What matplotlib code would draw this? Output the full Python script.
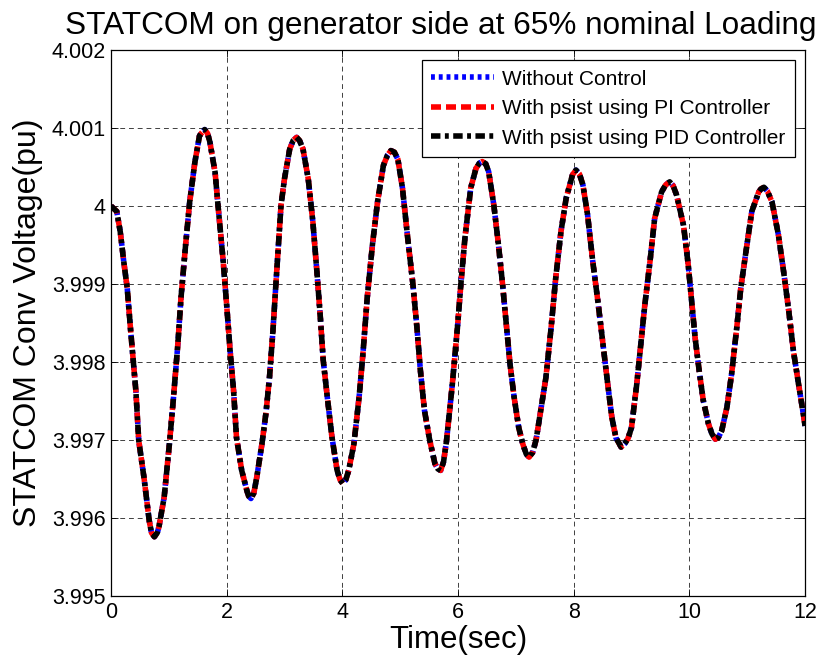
import numpy as np
import matplotlib.pyplot as plt

plt.rcParams['font.family'] = ['Liberation Sans', 'DejaVu Sans']

# time (s) and converter voltage (pu), one row per swing
t = [0.00, 0.10, 0.16, 0.22, 0.28, 0.34, 0.385, 0.43, 0.48, 0.57, 0.66, 0.70, 0.75, 0.80, 0.83,
     0.92, 1.01, 1.08, 1.155, 1.21, 1.29, 1.36, 1.45, 1.53, 1.57, 1.62, 1.67, 1.71,
     1.80, 1.85, 1.94, 2.00, 2.06, 2.12, 2.17, 2.26, 2.35, 2.38, 2.42, 2.47, 2.52,
     2.61, 2.68, 2.74, 2.80, 2.86, 2.94, 3.00, 3.09, 3.15, 3.21, 3.26, 3.32,
     3.41, 3.49, 3.56, 3.62, 3.67, 3.74, 3.82, 3.91, 3.96, 4.01, 4.06, 4.11,
     4.20, 4.29, 4.36, 4.43, 4.52, 4.61, 4.71, 4.78, 4.84, 4.90, 4.96,
     5.04, 5.13, 5.22, 5.29, 5.35, 5.42, 5.51, 5.60, 5.65, 5.70, 5.75, 5.80,
     5.90, 5.99, 6.05, 6.12, 6.22, 6.31, 6.37, 6.42, 6.48, 6.53,
     6.62, 6.70, 6.77, 6.83, 6.90, 6.97, 7.05, 7.12, 7.18, 7.23, 7.29, 7.35,
     7.43, 7.52, 7.61, 7.69, 7.78, 7.87, 7.98, 8.04, 8.10, 8.16,
     8.24, 8.33, 8.42, 8.50, 8.59, 8.66, 8.73, 8.82, 8.88, 8.94, 9.00,
     9.09, 9.16, 9.23, 9.32, 9.40, 9.52, 9.59, 9.66, 9.72, 9.78,
     9.90, 9.98, 10.04, 10.10, 10.17, 10.24, 10.33, 10.39, 10.45, 10.50, 10.56,
     10.65, 10.73, 10.82, 10.89, 10.98, 11.08, 11.20, 11.24, 11.29, 11.35, 11.43,
     11.54, 11.63, 11.72, 11.80, 11.89, 11.98, 12.00]

v_pid = [4.00000, 3.99993, 3.99967, 3.99929, 3.99895, 3.99840, 3.99801, 3.99763, 3.99699, 3.99652, 3.99597, 3.99581, 3.99576, 3.99581, 3.99589,
         3.99627, 3.99695, 3.99754, 3.99822, 3.99882, 3.99950, 4.00005, 4.00056, 4.00090, 4.00094, 4.00098, 4.00093, 4.00082,
         4.00043, 4.00001, 3.99929, 3.99873, 3.99814, 3.99763, 3.99703, 3.99661, 3.99635, 3.99628, 3.99625, 3.99632, 3.99652,
         3.99695, 3.99735, 3.99780, 3.99840, 3.99910, 4.00001, 4.00035, 4.00073, 4.00084, 4.00088, 4.00084, 4.00073,
         4.00035, 3.99980, 3.99916, 3.99857, 3.99802, 3.99755, 3.99704, 3.99661, 3.99649, 3.99644, 3.99649, 3.99661,
         3.99695, 3.99755, 3.99814, 3.99882, 3.99950, 4.00006, 4.00052, 4.00065, 4.00071, 4.00069, 4.00060,
         4.00023, 3.99959, 3.99900, 3.99844, 3.99789, 3.99738, 3.99700, 3.99670, 3.99663, 3.99661, 3.99672, 3.99698,
         3.99770, 3.99844, 3.99900, 3.99959, 4.00023, 4.00048, 4.00055, 4.00057, 4.00054, 4.00044,
         4.00001, 3.99950, 3.99900, 3.99853, 3.99797, 3.99755, 3.99716, 3.99695, 3.99682, 3.99678, 3.99684, 3.99700,
         3.99738, 3.99780, 3.99844, 3.99908, 3.99967, 4.00010, 4.00040, 4.00046, 4.00041, 4.00027,
         3.99989, 3.99929, 3.99877, 3.99827, 3.99771, 3.99729, 3.99703, 3.99691, 3.99695, 3.99702, 3.99716,
         3.99771, 3.99822, 3.99873, 3.99929, 3.99984, 4.00018, 4.00027, 4.00031, 4.00026, 4.00014,
         3.99975, 3.99925, 3.99878, 3.99831, 3.99789, 3.99751, 3.99721, 3.99708, 3.99701, 3.99703, 3.99712,
         3.99742, 3.99784, 3.99844, 3.99895, 3.99942, 3.99993, 4.00018, 4.00022, 4.00024, 4.00019, 4.00005,
         3.99963, 3.99916, 3.99865, 3.99814, 3.99771, 3.99729, 3.99718]

# the three responses overlap almost exactly
v_none = v_pid
v_pi = v_pid

labels = ['Without Control', 'With psist using PI Controller',
          'With psist using PID Controller']
xticks = [0, 2, 4, 6, 8, 10, 12]
yticks = [3.995, 3.996, 3.997, 3.998, 3.999, 4.000, 4.001, 4.002]

fig = plt.figure(figsize=(8.23, 6.65), dpi=100)
ax = fig.add_axes([111/823, 69/665, 694/823, 546/665])

lw = 4.0
ax.plot(t, v_none, color='#0000ff', lw=lw, dashes=(0.7, 0.7), label=labels[0],
        dash_joinstyle='round')
ax.plot(t, v_pi, color='#ff0000', lw=lw, dashes=(1.8, 0.9), label=labels[1],
        dash_joinstyle='round')
ax.plot(t, v_pid, color='black', lw=lw, dashes=(1.7, 0.8, 0.7, 0.8), label=labels[2],
        dash_joinstyle='round')

ax.set_xlim(0, 12)
ax.set_ylim(3.995, 4.002)
ax.set_xticks(xticks)
ax.set_yticks(yticks)
ax.set_yticklabels(['%g' % y for y in yticks])
ax.tick_params(direction='in', length=5, width=0.6, top=True, right=True,
               labelsize=15.5, pad=4)
ax.grid(True, color='0.25', lw=0.7, dashes=(5, 4))
for s in ax.spines.values():
    s.set_linewidth(0.9)

ax.set_xlabel('Time(sec)', fontsize=22.5, labelpad=2)
ax.set_ylabel('STATCOM Conv Voltage(pu)', fontsize=23, labelpad=6)
fig.text(0.535, 0.949, 'STATCOM on generator side at 65% nominal Loading',
         fontsize=22.7, ha='center', va='baseline')

leg = ax.legend(loc='upper right', fontsize=15, handlelength=3.0, handletextpad=0.4,
                labelspacing=0.5, borderpad=0.45, borderaxespad=0.5,
                fancybox=False, framealpha=1)
leg.get_frame().set_edgecolor('black')
leg.get_frame().set_linewidth(0.9)

fig.savefig('out.png', dpi=100)
